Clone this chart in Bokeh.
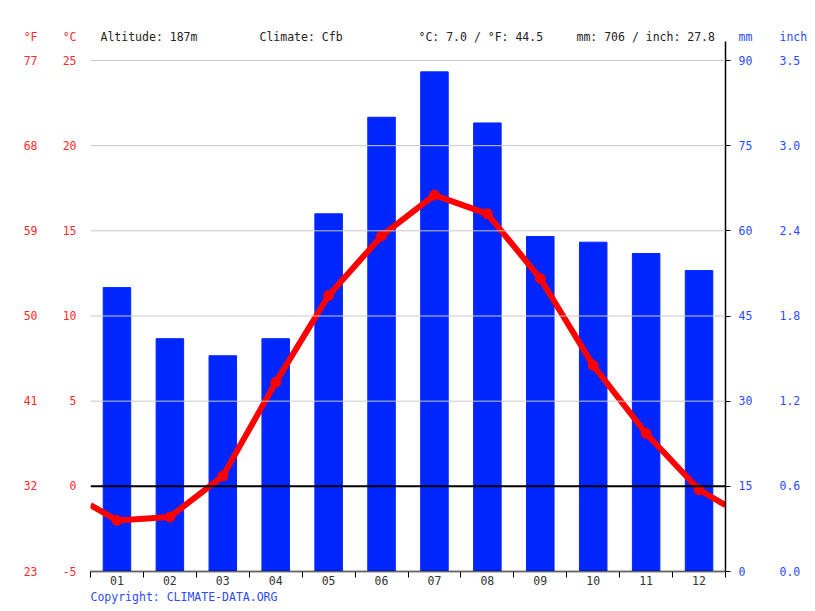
from bokeh.plotting import figure
from bokeh.models import (Range1d, LinearAxis, FixedTicker, Label, Span, Title)
from bokeh.embed import file_html
from bokeh.resources import INLINE

months = ["01", "02", "03", "04", "05", "06", "07", "08", "09", "10", "11", "12"]
temp_c = [-2.0, -1.8, 0.6, 6.1, 11.2, 14.7, 17.1, 16.0, 12.2, 7.1, 3.1, -0.2]
precip_mm = [50, 41, 38, 41, 63, 80, 88, 79, 59, 58, 56, 53]
c_ticks = [-5, 0, 5, 10, 15, 20, 25]
c_labels = ["-5", "0", "5", "10", "15", "20", "25"]
f_labels = ["23", "32", "41", "50", "59", "68", "77"]
mm_ticks = [0, 15, 30, 45, 60, 75, 90]
inch_labels = ["0.0", "0.6", "1.2", "1.8", "2.4", "3.0", "3.5"]
altitude = "187m"
climate = "Cfb"
mean_c = "7.0"
mean_f = "44.5"
total_mm = "706"
total_inch = "27.8"

FONT = "DejaVu Sans Mono"
FS = "11.5px"
RED = "#ff2a2a"
BLUE = "#2a4bff"
BAR = "#0026ff"

# canvas / frame geometry in pixels
W, H = 815, 611
FL, FR, FB = 90, 725, 571          # frame left, right, bottom
Y25 = 60                            # pixel of 25 degC / 90 mm
FT = 28                             # frame top (header row sits inside the frame)
HEAD_Y = 36
PXC = (FB - Y25) / 30.0             # pixels per degC
PXM = (FR - FL) / 12.0              # pixels per month

c_end = 25 + (Y25 - FT) / PXC
mm_end = 90 + (Y25 - FT) / PXC * 3.0
head_c = 25 + (Y25 - HEAD_Y) / PXC
head_mm = 90 + (Y25 - HEAD_Y) / PXC * 3.0

p = figure(width=W, height=H, output_backend="svg", toolbar_location=None,
           x_range=Range1d(0.5, 12.5), y_range=Range1d(-5, c_end),
           min_border_left=FL, min_border_right=W - FR, min_border_top=FT,
           min_border_bottom=H - FB,
           x_axis_location=None, y_axis_location=None)
p.grid.visible = False
p.outline_line_color = None
p.background_fill_color = "white"
p.border_fill_color = "white"
p.extra_y_ranges = {"mm": Range1d(0, mm_end)}

xs = list(range(1, 13))
p.vbar(x=xs, top=precip_mm, bottom=0, width=0.52, color=BAR, y_range_name="mm")

# grid lines
for t in c_ticks:
    if t == 0:
        continue
    p.add_layout(Span(location=t, dimension="width", line_color="#c8c8c8", line_width=1))
p.add_layout(Span(location=0, dimension="width", line_color="black", line_width=2))

# temperature line with wrap-around ends
edge = (temp_c[-1] + temp_c[0]) / 2.0
lx = [0.5] + xs + [12.5]
ly = [edge] + temp_c + [edge]
p.line(lx, ly, line_color="#ff0000", line_width=6)
p.scatter(xs, temp_c, size=10, color="#ff0000")

# bottom axis
xa = LinearAxis(ticker=FixedTicker(ticks=xs, minor_ticks=[i + 0.5 for i in range(0, 13)]),
                major_label_overrides={i + 1: m for i, m in enumerate(months)})
xa.axis_line_color = "black"
xa.axis_line_width = 1.5
xa.major_tick_line_color = None
xa.minor_tick_line_color = "black"
xa.minor_tick_out = 6
xa.minor_tick_in = 0
xa.major_label_standoff = -2
xa.major_label_text_font = FONT
xa.major_label_text_font_size = FS
xa.major_label_text_color = "#333333"
p.add_layout(xa, "below")

# left axes (the header units are tick labels placed at the header row)
ca = LinearAxis(ticker=FixedTicker(ticks=c_ticks + [head_c]),
                major_label_overrides=dict(list(zip(c_ticks, c_labels)) + [(head_c, "°C")]))
fa = LinearAxis(ticker=FixedTicker(ticks=c_ticks + [head_c]),
                major_label_overrides=dict(list(zip(c_ticks, f_labels)) + [(head_c, "°F")]))
for ax, so in ((ca, 14), (fa, 22)):
    ax.axis_line_color = None
    ax.major_tick_line_color = None
    ax.minor_tick_line_color = None
    ax.major_tick_out = 0
    ax.major_tick_in = 0
    ax.major_label_standoff = so
    ax.major_label_text_font = FONT
    ax.major_label_text_font_size = FS
    ax.major_label_text_color = RED
    p.add_layout(ax, "left")

# right axes
ma = LinearAxis(y_range_name="mm",
                ticker=FixedTicker(ticks=mm_ticks + [head_mm], minor_ticks=mm_ticks),
                major_label_overrides={head_mm: "mm"})
ma.bounds = (0, 90 + (Y25 - 41) / PXC * 3.0)
ma.axis_line_color = "black"
ma.axis_line_width = 1.5
ma.major_tick_line_color = None
ma.major_tick_out = 5
ma.major_tick_in = 0
ma.minor_tick_line_color = "black"
ma.minor_tick_out = 5
ma.minor_tick_in = 0
ma.major_label_standoff = 8
ma.major_label_text_font = FONT
ma.major_label_text_font_size = FS
ma.major_label_text_color = BLUE
p.add_layout(ma, "right")

ia = LinearAxis(y_range_name="mm", ticker=FixedTicker(ticks=mm_ticks + [head_mm]),
                major_label_overrides=dict(list(zip(mm_ticks, inch_labels)) + [(head_mm, "inch")]))
ia.axis_line_color = None
ia.major_tick_line_color = None
ia.minor_tick_line_color = None
ia.major_tick_out = 0
ia.major_tick_in = 0
ia.major_label_standoff = 24
ia.major_label_text_font = FONT
ia.major_label_text_font_size = FS
ia.major_label_text_color = BLUE
p.add_layout(ia, "right")


def fx(px):
    return 0.5 + (px - FL) / PXM


def lab(text, px):
    p.add_layout(Label(x=fx(px), y=head_c, text=text, text_font=FONT, text_font_size=FS,
                       text_color="#222222", text_align="left", text_baseline="middle"))


lab("Altitude: " + altitude, 100)
lab("Climate: " + climate, 259)
lab("°C: " + mean_c + " / °F: " + mean_f, 418)
lab("mm: " + total_mm + " / inch: " + total_inch, 576)

cp = Title(text="Copyright: CLIMATE-DATA.ORG", align="left", text_font=FONT,
           text_font_size=FS, text_color=BLUE, text_font_style="normal",
           standoff=0, offset=0)
p.add_layout(cp, "below")

open("out.html", "w").write(file_html(p, INLINE))
